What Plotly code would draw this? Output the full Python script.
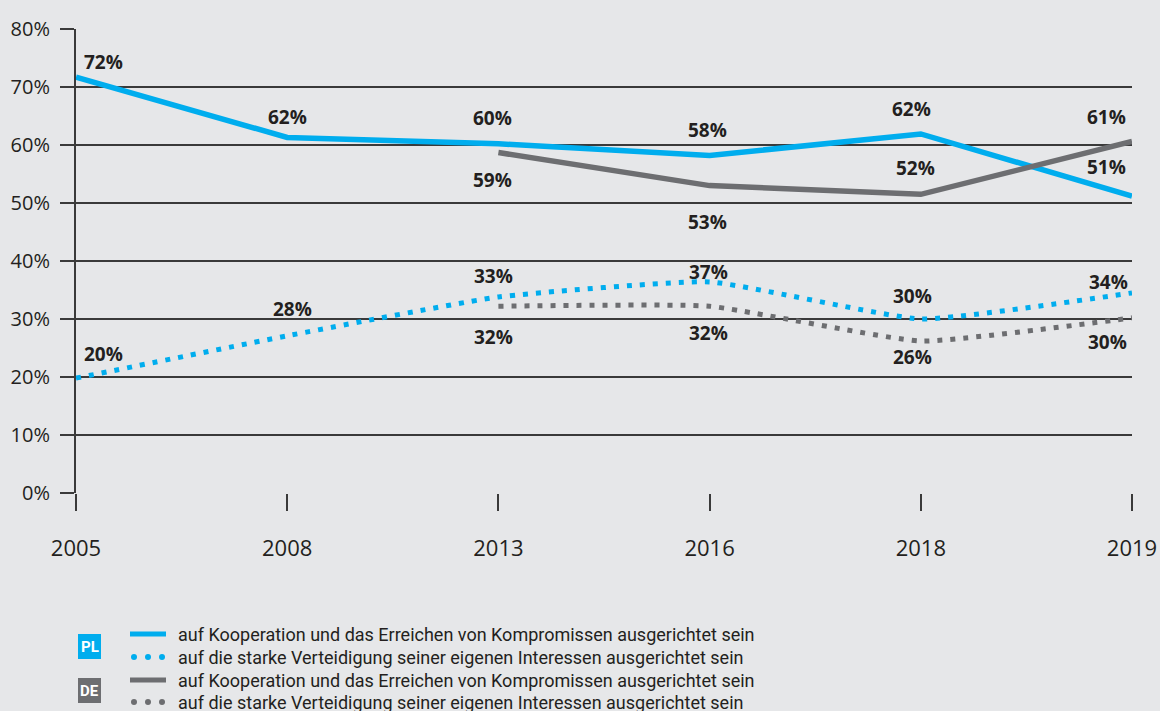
import plotly.graph_objects as go

# ---- data ----
years = ["2005", "2008", "2013", "2016", "2018", "2019"]
pl_coop = [71.7, 61.3, 60.2, 58.2, 61.9, 51.2]
pl_coop_lbl = ["72%", "62%", "60%", "58%", "62%", "51%"]
de_coop = [None, None, 58.7, 53.0, 51.5, 60.6]
de_coop_lbl = [None, None, "59%", "53%", "52%", "61%"]
pl_def = [19.8, 27.1, 33.8, 36.4, 30.0, 34.5]
pl_def_lbl = ["20%", "28%", "33%", "37%", "30%", "34%"]
de_def = [None, None, 32.2, 32.2, 26.2, 30.2]
de_def_lbl = [None, None, "32%", "32%", "26%", "30%"]
y_ticks = [0, 10, 20, 30, 40, 50, 60, 70, 80]
y_tick_text = ["0%", "10%", "20%", "30%", "40%", "50%", "60%", "70%", "80%"]
legend_texts = [
    "auf Kooperation und das Erreichen von Kompromissen ausgerichtet sein",
    "auf die starke Verteidigung seiner eigenen Interessen ausgerichtet sein",
    "auf Kooperation und das Erreichen von Kompromissen ausgerichtet sein",
    "auf die starke Verteidigung seiner eigenen Interessen ausgerichtet sein",
]
country_tags = ["PL", "DE"]

# ---- style ----
BLUE = "#00adee"
GRAY = "#6d6e71"
BG = "#e6e7e9"
DARK = "#231f20"
GRID = "#3a3a3a"

W, H = 1160, 711
ML, MR, MT, MB = 76, 28, 29, 218
PW, PH = W - ML - MR, H - MT - MB

xs = list(range(len(years)))

fig = go.Figure()
fig.add_trace(go.Scatter(x=xs, y=pl_coop, mode="lines", line=dict(color=BLUE, width=5.5), hoverinfo="skip"))
fig.add_trace(go.Scatter(x=xs, y=de_coop, mode="lines", line=dict(color=GRAY, width=5.5), hoverinfo="skip"))
fig.add_trace(go.Scatter(x=xs, y=pl_def, mode="lines", line=dict(color=BLUE, width=5, dash="5px,8px", shape="spline", smoothing=0.4), hoverinfo="skip"))
fig.add_trace(go.Scatter(x=xs, y=de_def, mode="lines", line=dict(color=GRAY, width=5, dash="5px,8px", shape="spline", smoothing=0.4), hoverinfo="skip"))

# label offsets in pixels (xshift, yshift)
off_pl_coop = [(27, 15), (0, 20), (-6, 26), (-2, 25), (-9, 25), (-26, 29)]
off_de_coop = [None, None, (-6, -27), (-2, -36), (-5, 26), (-26, 25)]
off_pl_def = [(27, 24), (5, 27), (-5, 21), (-1, 10), (-8, 23), (-24, 11)]
off_de_def = [None, None, (-5, -31), (-1, -27), (-8, -16), (-25, -24)]

for vals, lbls, offs in [(pl_coop, pl_coop_lbl, off_pl_coop), (de_coop, de_coop_lbl, off_de_coop),
                         (pl_def, pl_def_lbl, off_pl_def), (de_def, de_def_lbl, off_de_def)]:
    for i, (v, t, o) in enumerate(zip(vals, lbls, offs)):
        if v is None:
            continue
        fig.add_annotation(x=xs[i], y=v, text="<b>%s</b>" % t, showarrow=False,
                           xshift=o[0], yshift=o[1], xanchor="center", yanchor="middle",
                           font=dict(family="Open Sans", size=19, color=DARK))

# ---- custom legend ----
def px_x(px):
    return (px - ML) / PW

def px_y(py):
    return (H - MB - py) / PH

shapes = []
rows_y = [634, 657, 680, 702]
row_col = [BLUE, BLUE, GRAY, GRAY]
row_dot = [False, True, False, True]
for ry, c, dotted, txt in zip(rows_y, row_col, row_dot, legend_texts):
    if dotted:
        for cx in [134, 148, 162]:
            shapes.append(dict(type="circle", xref="paper", yref="paper",
                               x0=px_x(cx - 3), x1=px_x(cx + 3), y0=px_y(ry - 3), y1=px_y(ry + 3),
                               fillcolor=c, line=dict(width=0)))
    else:
        shapes.append(dict(type="rect", xref="paper", yref="paper",
                           x0=px_x(130), x1=px_x(166), y0=px_y(ry - 2.5), y1=px_y(ry + 2.5),
                           fillcolor=c, line=dict(width=0)))
    fig.add_annotation(xref="paper", yref="paper", x=px_x(176), y=px_y(ry), text=txt,
                       showarrow=False, xanchor="left", yanchor="middle",
                       font=dict(family="Roboto", size=18, color=DARK))

for tag, c, (y0, y1) in zip(country_tags, [BLUE, GRAY], [(634, 659), (678, 703)]):
    shapes.append(dict(type="rect", xref="paper", yref="paper",
                       x0=px_x(78), x1=px_x(101), y0=px_y(y1), y1=px_y(y0),
                       fillcolor=c, line=dict(width=0)))
    fig.add_annotation(xref="paper", yref="paper", x=px_x(89.5), y=px_y((y0 + y1) / 2),
                       text="<b>%s</b>" % tag, showarrow=False, xanchor="center", yanchor="middle",
                       font=dict(family="Roboto", size=15, color="white"))

fig.update_layout(
    width=W, height=H,
    margin=dict(l=ML, r=MR, t=MT, b=MB, pad=0, autoexpand=False),
    paper_bgcolor=BG, plot_bgcolor=BG,
    showlegend=False,
    shapes=shapes,
    xaxis=dict(range=[0, len(years) - 1], tickvals=xs, ticktext=years, showgrid=False,
               zeroline=False, showline=False, ticks="outside", ticklen=17, tickwidth=2,
               tickcolor=GRID, ticklabelstandoff=19, automargin=False,
               tickfont=dict(family="Open Sans", size=22, color=DARK)),
    yaxis=dict(range=[0, 80], tickvals=y_ticks, ticktext=y_tick_text, showgrid=True, gridcolor=GRID,
               gridwidth=1.5, zeroline=False, showline=True, linecolor=GRID, linewidth=2,
               ticks="outside", ticklen=14, tickwidth=1.5, tickcolor=GRID, ticklabelstandoff=6,
               automargin=False,
               tickfont=dict(family="Open Sans", size=20, color=DARK)),
)

fig.write_html("out.html", config={"displayModeBar": False},
               post_script="document.body.style.margin='0';document.body.style.background='%s';" % BG)
